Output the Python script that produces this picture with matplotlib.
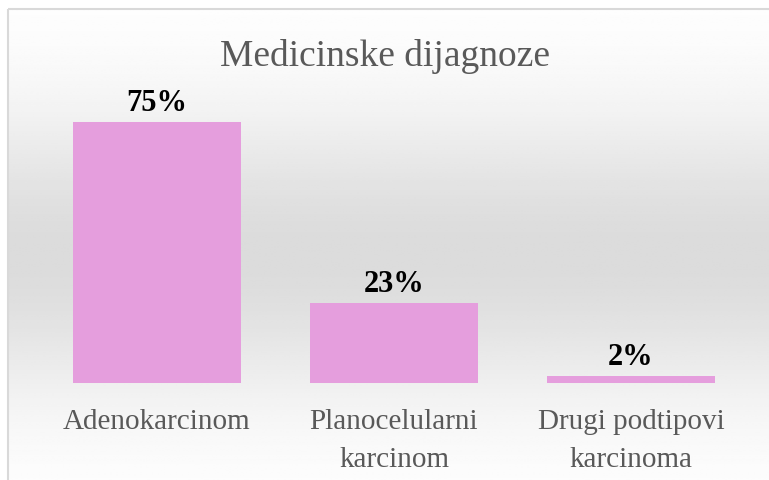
import numpy as np
import matplotlib.pyplot as plt
from matplotlib import patches

categories = ["Adenokarcinom", "Planocelularni\nkarcinom", "Drugi podtipovi\nkarcinoma"]
values = [75, 23, 2]
labels = ["75%", "23%", "2%"]

W, H, dpi = 769, 481, 100
fig = plt.figure(figsize=(W / dpi, H / dpi), dpi=dpi)
fig.patch.set_facecolor("white")

# Background panel with vertical gradient (white -> gray -> white)
bg = fig.add_axes([0, 0, 1, 1], zorder=0)
bg.set_xlim(0, W)
bg.set_ylim(H, 0)
bg.axis("off")
y = np.linspace(0, 1, 200)
shade = 1.0 - 0.14 * np.exp(-((y - 0.52) / 0.3) ** 2)
grad = np.tile(shade[:, None], (1, 2))
bg.imshow(grad, cmap="gray", vmin=0, vmax=1, extent=(8, W + 2, H + 2, 10),
          aspect="auto", interpolation="bilinear")
bg.add_patch(patches.Rectangle((8, 10), W, H, fill=False,
                               edgecolor="#d9d9d9", linewidth=1.5))

serif = ["Liberation Serif", "DejaVu Serif"]

ax = fig.add_axes([38.5 / W, 1 - 384 / H, 711 / W, 261 / H], zorder=1)
ax.patch.set_alpha(0)
x = np.arange(len(categories))
bars = ax.bar(x, values, width=0.71, color="#e59edd")
ax.set_xlim(-0.5, len(categories) - 0.5)
ax.set_ylim(0, 75)
for spine in ax.spines.values():
    spine.set_visible(False)
ax.set_yticks([])
ax.set_xticks(x)
ax.set_xticklabels(categories, family=serif, fontsize=21, color="#595959",
                   linespacing=1.62)
ax.tick_params(axis="x", length=0, pad=18)

for xi, v, lab in zip(x, values, labels):
    ax.annotate(lab, (xi, v), xytext=(0, 8.6), textcoords="offset points",
                ha="center", va="baseline", family=serif, fontsize=22,
                fontweight="bold", color="black")

fig.text(0.5, 1 - 66 / H, "Medicinske dijagnoze", ha="center", va="baseline",
         family=serif, fontsize=27, color="#595959")

fig.savefig("out.png", dpi=dpi)
